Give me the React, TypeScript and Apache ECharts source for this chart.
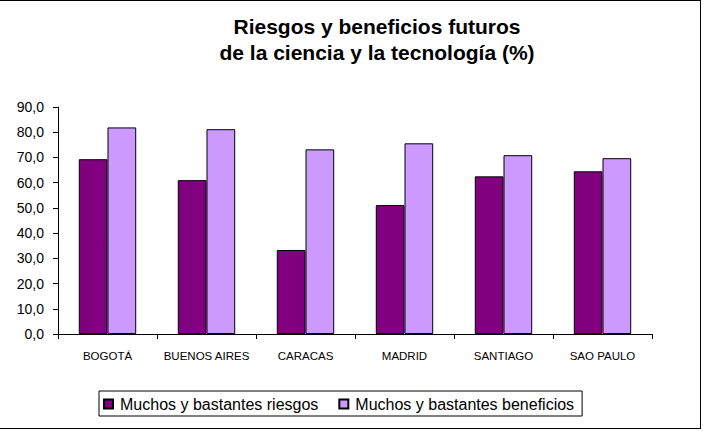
import React, { useEffect, useRef } from "react";
import * as echarts from "echarts";

const cities = ["BOGOTÁ", "BUENOS AIRES", "CARACAS", "MADRID", "SANTIAGO", "SAO PAULO"];
const riesgos = [69.3, 61.0, 33.3, 51.1, 62.5, 64.5];
const beneficios = [81.9, 81.2, 73.2, 75.6, 70.9, 69.7];
const seriesNames = ["Muchos y bastantes riesgos", "Muchos y bastantes beneficios"];
const titleLines = ["Riesgos y beneficios futuros", "de la ciencia y la tecnología (%)"];

const FONT = "Liberation Sans, Arial, sans-serif";

export default function App() {
  const ref = useRef<HTMLDivElement>(null);

  useEffect(() => {
    if (!ref.current) return;
    const chart = echarts.init(ref.current, null, { renderer: "svg" });
    chart.setOption({
      animation: false,
      backgroundColor: "#ffffff",
      textStyle: { fontFamily: FONT },
      title: {
        text: titleLines.join("\n"),
        left: 372,
        textAlign: "center",
        top: 8,
        textStyle: {
          fontFamily: FONT,
          fontSize: 21,
          fontWeight: "bold",
          color: "#000",
          lineHeight: 26,
        },
      },
      grid: { left: 58, right: 52, top: 107, bottom: 97, containLabel: false },
      legend: {
        left: 99,
        top: 391,
        orient: "horizontal",
        borderColor: "#000",
        borderWidth: 1,
        borderRadius: 0,
        padding: [5, 8, 4, 4],
        itemGap: 20,
        itemWidth: 9,
        itemHeight: 9,
        icon: "rect",
        textStyle: { fontFamily: FONT, fontSize: 16, color: "#000", padding: [0, 0, 0, 2] },
        data: seriesNames,
      },
      xAxis: {
        type: "category",
        data: cities,
        boundaryGap: true,
        axisLine: { show: true, lineStyle: { color: "#000", width: 1 } },
        axisTick: { show: true, alignWithLabel: false, length: 5, lineStyle: { color: "#000" } },
        axisLabel: { fontFamily: FONT, fontSize: 11.5, color: "#000", margin: 16, interval: 0 },
        splitLine: { show: false },
      },
      yAxis: {
        type: "value",
        min: 0,
        max: 90,
        interval: 10,
        axisLine: { show: true, lineStyle: { color: "#000", width: 1 } },
        axisTick: { show: true, length: 5, lineStyle: { color: "#000" } },
        axisLabel: {
          fontFamily: FONT,
          fontSize: 14,
          color: "#000",
          margin: 14,
          formatter: (v: number) => v.toFixed(1).replace(".", ","),
        },
        splitLine: { show: false },
      },
      series: [
        {
          name: seriesNames[0],
          type: "bar",
          data: riesgos,
          barGap: "0%",
          barCategoryGap: "42%",
          itemStyle: { color: "#800080", borderColor: "#000", borderWidth: 1 },
        },
        {
          name: seriesNames[1],
          type: "bar",
          data: beneficios,
          barGap: "0%",
          barCategoryGap: "42%",
          itemStyle: { color: "#CC99FF", borderColor: "#000", borderWidth: 1 },
        },
      ],
      graphic: [
        { type: "line", shape: { x1: 0, y1: 0.5, x2: 701, y2: 0.5 }, style: { stroke: "#000", lineWidth: 1 } },
        { type: "line", shape: { x1: 700.5, y1: 0, x2: 700.5, y2: 428 }, style: { stroke: "#000", lineWidth: 1 } },
        { type: "line", shape: { x1: 0, y1: 428.5, x2: 701, y2: 428.5 }, style: { stroke: "#000", lineWidth: 1 } },
      ],
    });
    return () => chart.dispose();
  }, []);

  return (
    <div
      ref={ref}
      style={{ position: "fixed", left: 0, top: 0, width: 704, height: 431 }}
    />
  );
}
